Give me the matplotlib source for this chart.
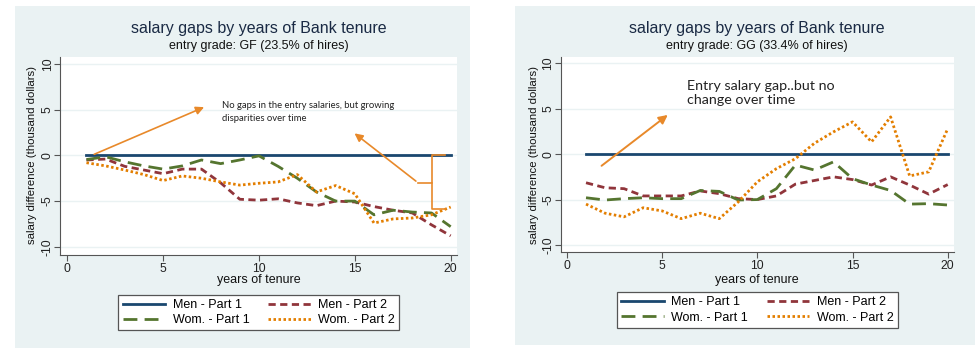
import matplotlib
matplotlib.use("Agg")
import matplotlib.pyplot as plt
from matplotlib.patches import Rectangle

plt.rcParams['font.family'] = ['Liberation Sans', 'DejaVu Sans']

years = list(range(1, 21))

# Panel 1: entry grade GF
gf_men_p1 = [0.0] * 20
gf_men_p2 = [-0.5, -0.4, -1.2, -1.6, -2.0, -1.5, -1.5, -3.0, -4.8, -4.9,
             -4.75, -5.2, -5.5, -5.0, -5.1, -5.6, -6.0, -6.3, -7.6, -8.8]
gf_wom_p1 = [-0.45, -0.15, -0.7, -1.15, -1.5, -1.15, -0.5, -0.9, -0.5, -0.05,
             -1.2, -2.5, -4.0, -5.0, -5.0, -6.5, -6.0, -6.2, -6.3, -7.8]
gf_wom_p2 = [-0.8, -1.15, -1.6, -2.1, -2.75, -2.25, -2.5, -2.9, -3.25, -3.05,
             -2.9, -2.1, -4.0, -3.3, -4.2, -7.4, -6.95, -6.85, -6.5, -5.65]

# Panel 2: entry grade GG
gg_men_p1 = [0.0] * 20
gg_men_p2 = [-3.15, -3.7, -3.8, -4.6, -4.6, -4.6, -4.05, -4.35, -4.9, -5.0,
             -4.6, -3.3, -2.9, -2.5, -2.8, -3.4, -2.5, -3.4, -4.4, -3.35]
gg_wom_p1 = [-4.8, -5.05, -4.9, -4.8, -4.9, -4.9, -4.0, -4.1, -5.05, -5.0,
             -3.8, -1.2, -1.75, -0.85, -2.7, -3.4, -4.0, -5.5, -5.45, -5.6]
gg_wom_p2 = [-5.5, -6.5, -6.9, -5.9, -6.25, -7.1, -6.5, -7.1, -5.25, -3.05,
             -1.6, -0.5, 1.2, 2.45, 3.55, 1.35, 4.1, -2.4, -1.95, 2.8]

series_labels = ["Men - Part 1", "Men - Part 2", "Wom. - Part 1", "Wom. - Part 2"]
main_title = "salary gaps by years of Bank tenure"
subtitles = ["entry grade: GF (23.5% of hires)", "entry grade: GG (33.4% of hires)"]
xticks = [0, 5, 10, 15, 20]
yticks = [-10, -5, 0, 5, 10]

NAVY = "#1a476f"
MAROON = "#90353b"
GREEN = "#55752f"
ORANGE = "#e37e00"
ARROW = "#e8892a"
BG = "#eaf2f3"
GRID = "#eaf2f3"

W, H = 975, 354
fig = plt.figure(figsize=(W / 100, H / 100), dpi=100)
fig.patch.set_facecolor("white")


def fx(px):
    return px / W


def fy(py):
    return 1 - py / H


# Panel backgrounds
fig.patches.append(Rectangle((fx(15), fy(348)), fx(470) - fx(15), fy(6) - fy(348),
                             transform=fig.transFigure, facecolor=BG, edgecolor="none", zorder=-5))
fig.patches.append(Rectangle((fx(515), fy(345)), fx(975) - fx(515), fy(6) - fy(345),
                             transform=fig.transFigure, facecolor=BG, edgecolor="none", zorder=-5))

styles = [
    dict(color=NAVY, linestyle="-", lw=2.0),
    dict(color=MAROON, linestyle=(0, (2.6, 1.6)), lw=2.0),
    dict(color=GREEN, linestyle=(0, (5.0, 2.6)), lw=2.0),
    dict(color=ORANGE, linestyle=(0, (0.9, 0.9)), lw=2.0),
]

panels = [
    dict(box=(60, 457, 57, 255), xlim=(-0.38, 20.33), ylim=(-10.9, 10.77),
         data=[gf_men_p1, gf_men_p2, gf_wom_p1, gf_wom_p2],
         title_x=259, legend=(120.7, 396.7, 293, 332), xlabel_x=259, ylabel_x=32),
    dict(box=(560.7, 954, 57, 252), xlim=(-0.33, 20.33), ylim=(-10.77, 10.69),
         data=[gg_men_p1, gg_men_p2, gg_wom_p1, gg_wom_p2],
         title_x=757, legend=(620, 894.3, 291, 329), xlabel_x=757, ylabel_x=534),
]

axes = []
for i, p in enumerate(panels):
    l, r, t, b = p["box"]
    ax = fig.add_axes([fx(l), fy(b), fx(r) - fx(l), fy(t) - fy(b)])
    ax.set_zorder(2)
    ax.set_facecolor("white")
    ax.set_xlim(*p["xlim"])
    ax.set_ylim(*p["ylim"])
    for yv in yticks:
        ax.axhline(yv, color=GRID, lw=1.0, zorder=0.5)
    handles = []
    for vals, st, lab in zip(p["data"], styles, series_labels):
        ln, = ax.plot(years, vals, label=lab, zorder=3, **st)
        handles.append(ln)
    ax.set_xticks(xticks)
    ax.set_yticks(yticks)
    ax.set_yticklabels([str(v) for v in yticks], rotation=90, va="center")
    ax.tick_params(axis="both", direction="out", length=4, width=0.8, color="#555555",
                   labelsize=8.7, labelcolor="#222222", pad=2)
    ax.tick_params(axis="y", pad=0.5)
    for s in ["top", "right"]:
        ax.spines[s].set_visible(False)
    for s in ["left", "bottom"]:
        ax.spines[s].set_color("#555555")
        ax.spines[s].set_linewidth(0.8)
    fig.text(fx(p["title_x"]), fy(28), main_title, ha="center", va="center",
             fontsize=11.5, color="#1a2a44")
    fig.text(fx(p["title_x"]), fy(46.5), subtitles[i], ha="center", va="center",
             fontsize=9, color="#111111")
    fig.text(fx(p["xlabel_x"]), fy(280), "years of tenure", ha="center", va="center",
             fontsize=9, color="#111111")
    fig.text(fx(p["ylabel_x"]), fy(155), "salary difference (thousand dollars)", ha="center",
             va="center", rotation=90, fontsize=8.2, color="#111111")
    ll, lr, lt, lb = p["legend"]
    order = [0, 2, 1, 3]
    leg = fig.legend(handles=[handles[k] for k in order],
                     labels=[series_labels[k] for k in order], ncol=2,
                     loc="center", bbox_to_anchor=(fx((ll + lr) / 2), fy((lt + lb) / 2)),
                     bbox_transform=fig.transFigure, fontsize=9, frameon=True,
                     fancybox=False, edgecolor="#555555", facecolor="white", framealpha=1,
                     handlelength=3.4, columnspacing=1.5, labelspacing=0.25,
                     borderpad=0.35, handletextpad=0.6)
    leg.get_frame().set_linewidth(0.9)
    leg.set_zorder(3)
    axes.append(ax)

# Annotations, panel 1
ax1, ax2 = axes
ax1.annotate("", xy=(7.27, 5.4), xytext=(1.27, 0.0),
             arrowprops=dict(arrowstyle="-|>", color=ARROW, lw=1.2, mutation_scale=12), zorder=5)
ax1.annotate("", xy=(14.87, 2.6), xytext=(18.3, -3.0),
             arrowprops=dict(arrowstyle="-|>", color=ARROW, lw=1.2, mutation_scale=12), zorder=5)
ax1.text(8.05, 6.0, "No gaps in the entry salaries, but growing\ndisparities over time",
         fontsize=6.8, family=["Lato", "DejaVu Sans"], color="#222222", va="top", ha="left",
         linespacing=1.6)
# brace
ax1.plot([19.7, 19.0, 19.0, 18.3], [0.0, 0.0, -3.0, -3.0], color=ARROW, lw=1.2, zorder=4)
ax1.plot([19.0, 19.0, 19.7], [-3.0, -5.85, -5.85], color=ARROW, lw=1.2, zorder=4)

# Annotations, panel 2
ax2.annotate("", xy=(5.41, 4.5), xytext=(1.7, -1.47),
             arrowprops=dict(arrowstyle="-|>", color=ARROW, lw=1.4, mutation_scale=13), zorder=5)
ax2.text(6.29, 8.2, "Entry salary gap..but no\nchange over time",
         fontsize=10.3, family=["Lato", "DejaVu Sans"], color="#222222", va="top", ha="left",
         linespacing=1.25)

fig.savefig("out.png", dpi=100, facecolor="white")
